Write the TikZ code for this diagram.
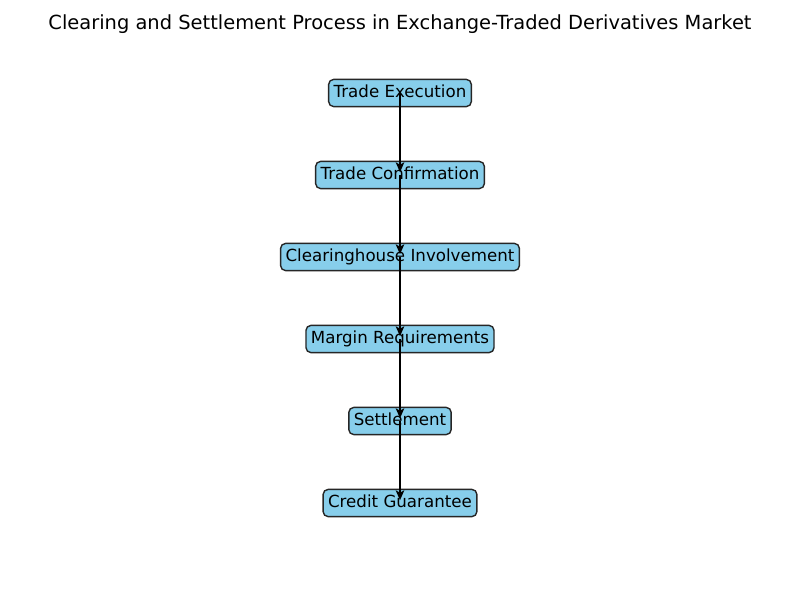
\documentclass[tikz,border=0pt]{standalone}
\usepackage{fontspec}
\setmainfont{DejaVu Sans}
\usetikzlibrary{arrows.meta}
\definecolor{skyblue}{HTML}{87CEEB}
\tikzset{
  px/.style={x=0.72pt,y=-0.72pt},
  stepbox/.style={draw=black!85, line width=1pt, fill=skyblue, rounded corners=3.6pt,
    inner xsep=3.6pt, inner ysep=3.6pt, text height=9.6pt, text depth=2.8pt, font=\fontsize{12pt}{14pt}\selectfont},
  flow/.style={line width=1.8pt, black, shorten <=0pt, shorten >=2pt, -{Stealth[length=7pt,width=6pt,inset=1.5pt]}},
  titletext/.style={font=\fontsize{14pt}{17pt}\selectfont, inner sep=0pt}
}
\begin{document}
\begin{tikzpicture}[px]
\useasboundingbox (0,0) rectangle (800,600);
\node[titletext] (title) at (400,24) {Clearing and Settlement Process in Exchange-Traded Derivatives Market};
\node[stepbox] (n1) at (400,93) {Trade Execution};
\node[stepbox] (n2) at (400,175) {Trade Confirmation};
\node[stepbox] (n3) at (400,257) {Clearinghouse Involvement};
\node[stepbox] (n4) at (400,339) {Margin Requirements};
\node[stepbox] (n5) at (400,421) {Settlement};
\node[stepbox] (n6) at (400,503) {Credit Guarantee};
\draw[flow] (n1.center) -- (n2.center);
\draw[flow] (n2.center) -- (n3.center);
\draw[flow] (n3.center) -- (n4.center);
\draw[flow] (n4.center) -- (n5.center);
\draw[flow] (n5.center) -- (n6.center);
\end{tikzpicture}
\end{document}
